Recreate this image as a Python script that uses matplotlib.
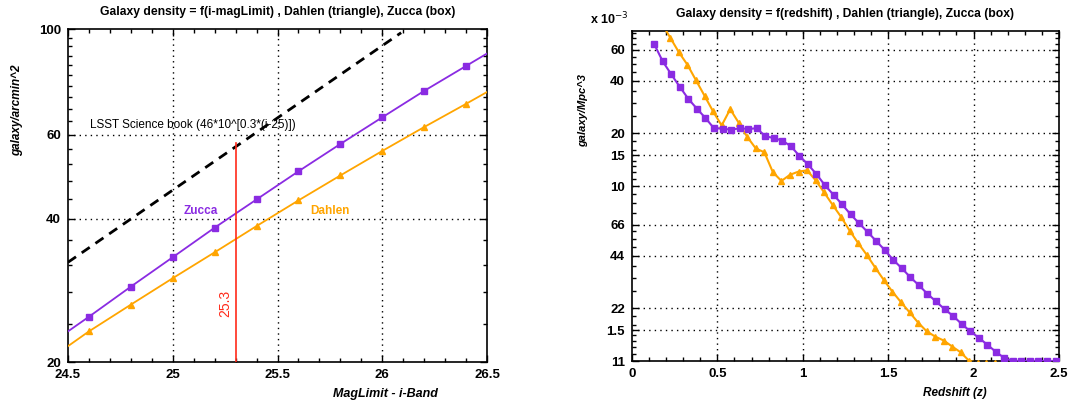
import numpy as np
import matplotlib
matplotlib.use("Agg")
import matplotlib.pyplot as plt
from matplotlib.ticker import NullFormatter

plt.rcParams['font.family'] = ['Liberation Sans', 'DejaVu Sans']

# ---- left panel : density vs i-band limiting magnitude ----
mag = [24.6, 24.8, 25.0, 25.2, 25.4, 25.6, 25.8, 26.0, 26.2, 26.4]
zucca_mag = [24.9, 28.8, 33.2, 38.3, 43.9, 50.3, 57.4, 65.3, 74.2, 83.7]
dahlen_mag = [23.2, 26.4, 30.0, 34.0, 38.6, 43.7, 49.3, 55.5, 62.3, 69.7]

# where the connecting lines meet the plot edges
edge_x = [24.5, 26.5]
zucca_edge = [23.2, 88.9]
dahlen_edge = [21.6, 73.8]

# LSST science book relation
lsst_x = [24.5, 26.09]
lsst_y = [32.4, 98.3]

mag_cut = 25.3
mag_cut_top = 57.6

# ---- right panel : density vs redshift (units of 1e-3 galaxy/Mpc^3) ----
z_zucca = [0.13, 0.18, 0.23, 0.28, 0.33, 0.38, 0.43, 0.48, 0.53, 0.58,
           0.63, 0.68, 0.73, 0.78, 0.83, 0.88, 0.93, 0.98, 1.03, 1.08,
           1.13, 1.18, 1.23, 1.28, 1.33, 1.38, 1.43, 1.48, 1.53, 1.58,
           1.63, 1.68, 1.73, 1.78, 1.83, 1.88, 1.93, 1.98, 2.03, 2.08,
           2.13, 2.18, 2.23, 2.28, 2.33, 2.38, 2.43, 2.48]
n_zucca = [64.8, 51.6, 43.5, 36.9, 31.5, 27.7, 24.5, 21.4, 21.3, 21.0,
           21.4, 21.2, 21.4, 19.3, 18.8, 18.2, 16.9, 14.9, 13.3, 11.7,
           10.1, 8.92, 7.86, 6.89, 6.12, 5.46, 4.85, 4.31, 3.78, 3.39,
           3.01, 2.71, 2.42, 2.19, 1.98, 1.81, 1.63, 1.48, 1.36, 1.24,
           1.13, 1.04, 1.0, 1.0, 1.0, 1.0, 1.0, 1.0]

z_dahlen = [0.175, 0.225, 0.275, 0.325, 0.375, 0.425, 0.475, 0.525, 0.575, 0.625,
            0.675, 0.725, 0.775, 0.825, 0.875, 0.925, 0.975, 1.025, 1.075, 1.125,
            1.175, 1.225, 1.275, 1.325, 1.375, 1.425, 1.475, 1.525, 1.575, 1.625,
            1.675, 1.725, 1.775, 1.825, 1.875, 1.925, 1.975, 2.025, 2.075, 2.125,
            2.175, 2.225, 2.275, 2.325, 2.375, 2.425, 2.475]
n_dahlen = [85.0, 70.2, 58.1, 49.3, 40.2, 32.8, 26.7, 22.2, 27.5, 23.0,
            19.1, 16.4, 15.6, 12.0, 10.7, 11.6, 12.1, 12.3, 10.8, 9.2,
            7.8, 6.65, 5.55, 4.71, 4.04, 3.41, 2.9, 2.49, 2.17, 1.90,
            1.66, 1.48, 1.38, 1.31, 1.21, 1.12, 1.0, 0.98, 0.98, 0.98,
            0.98, 0.98, 0.98, 0.98, 0.98, 0.98, 0.98]

right_ticks = [60, 40, 20, 15, 10, 6, 4, 2, 1.5, 1]
right_labels = ["60", "40", "20", "15", "10", "66", "44", "22", "1.5", "11"]

purple = "#8a2be2"
orange = "#ffa500"
red = "#ff2a1a"


def style_axes(ax):
	for s in ax.spines.values():
		s.set_linewidth(1.2)
	ax.tick_params(which="both", direction="in", top=True, right=True,
	               labelsize=9.5, width=1.0, pad=5)
	ax.tick_params(which="major", length=5)
	ax.tick_params(which="minor", length=3)
	for lab in ax.get_xticklabels() + ax.get_yticklabels():
		lab.set_fontweight("bold")


fig = plt.figure(figsize=(10.69, 4.05), dpi=100)

# ------------------------------------------------ left
ax1 = fig.add_axes([0.0636, 0.106, 0.392, 0.822])
ax1.set_yscale("log")
ax1.set_xlim(24.5, 26.5)
ax1.set_ylim(20, 100)

for g in [25.0, 25.5, 26.0]:
	ax1.axvline(g, color="black", lw=1.0, ls=(0, (1, 3)), zorder=1)
for g in [40, 60]:
	ax1.axhline(g, color="black", lw=1.0, ls=(0, (1, 3)), zorder=1)

ax1.plot(lsst_x, lsst_y, color="black", lw=2.0, ls=(0, (3.5, 2.5)), zorder=3)
ax1.plot([edge_x[0]] + mag + [edge_x[1]], [zucca_edge[0]] + zucca_mag + [zucca_edge[1]],
         color=purple, lw=1.3, zorder=3)
ax1.plot([edge_x[0]] + mag + [edge_x[1]], [dahlen_edge[0]] + dahlen_mag + [dahlen_edge[1]],
         color=orange, lw=1.3, zorder=3)
ax1.plot(mag, zucca_mag, ls="none", marker="s", ms=4.5, color=purple, zorder=4)
ax1.plot(mag, dahlen_mag, ls="none", marker="^", ms=4.5, color=orange, zorder=4)
ax1.plot([mag_cut, mag_cut], [20, mag_cut_top], color=red, lw=1.2, zorder=3)

ax1.text(24.605, 63.0, "LSST Science book (46*10^[0.3*(i-25)])", fontsize=8.5,
         va="center", ha="left")
ax1.text(25.054, 41.5, "Zucca", color=purple, fontsize=8.5, fontweight="bold",
         va="center", ha="left")
ax1.text(25.655, 41.5, "Dahlen", color=orange, fontsize=8.5, fontweight="bold",
         va="center", ha="left")
ax1.text(25.249, 26.5, "25.3", color=red, fontsize=10, rotation=90,
         va="center", ha="center")

ax1.set_xticks([24.5, 25.0, 25.5, 26.0, 26.5])
ax1.set_xticklabels(["24.5", "25", "25.5", "26", "26.5"])
ax1.set_xticks(np.arange(24.6, 26.45, 0.1), minor=True)
ax1.set_yticks([20, 40, 60, 100])
ax1.set_yticklabels(["20", "40", "60", "100"])
ax1.set_yticks([v for v in range(24, 100, 4) if v not in (40, 60)], minor=True)
ax1.yaxis.set_minor_formatter(NullFormatter())
style_axes(ax1)

ax1.set_title("Galaxy density = f(i-magLimit) , Dahlen (triangle), Zucca (box)",
              fontsize=8.7, fontweight="bold", pad=10)
ax1.set_xlabel("MagLimit - i-Band", fontsize=9, fontweight="bold", style="italic")
ax1.xaxis.set_label_coords(0.758, -0.078)
ax1.set_ylabel("galaxy/arcmin^2", fontsize=8.5, fontweight="bold", style="italic")
ax1.yaxis.set_label_coords(-0.107, 0.757)

# ------------------------------------------------ right
ax2 = fig.add_axes([0.5912, 0.1086, 0.3994, 0.8149])
ax2.set_yscale("log")
ax2.set_xlim(0, 2.5)
ax2.set_ylim(1.0, 77.0)

for g in [0.5, 1.0, 1.5, 2.0]:
	ax2.axvline(g, color="black", lw=1.0, ls=(0, (1, 3)), zorder=1)
for g in right_ticks[:-1]:
	ax2.axhline(g, color="black", lw=1.0, ls=(0, (1, 3)), zorder=1)

ax2.plot(z_dahlen, n_dahlen, color=orange, lw=1.5, marker="^", ms=4.5, zorder=3)
ax2.plot(z_zucca, n_zucca, color=purple, lw=1.5, marker="s", ms=5, zorder=4)

ax2.set_xticks([0, 0.5, 1.0, 1.5, 2.0, 2.5])
ax2.set_xticklabels(["0", "0.5", "1", "1.5", "2", "2.5"])
ax2.set_xticks(np.arange(0.1, 2.45, 0.1), minor=True)
ax2.set_yticks(right_ticks)
ax2.set_yticklabels(right_labels)
ax2.set_yticks([75, 70, 65, 55, 50, 45, 35, 30, 25, 18, 16, 14, 13, 12, 11,
                9, 8, 7, 5.5, 5, 4.5, 3.5, 3, 2.5, 1.8, 1.6, 1.4, 1.3, 1.2, 1.1],
               minor=True)
ax2.yaxis.set_minor_formatter(NullFormatter())
style_axes(ax2)

ax2.set_title("Galaxy density = f(redshift) , Dahlen (triangle), Zucca (box)",
              fontsize=8.7, fontweight="bold", pad=10)
ax2.set_xlabel("Redshift (z)", fontsize=8.5, fontweight="bold", style="italic")
ax2.xaxis.set_label_coords(0.755, -0.078)
ax2.set_ylabel("galaxy/Mpc^3", fontsize=8, fontweight="bold", style="italic")
ax2.yaxis.set_label_coords(-0.103, 0.758)
fig.text(0.552, 0.953, r"x 10$^{-3}$", fontsize=9, fontweight="bold",
         va="center", ha="left")

fig.savefig("out.png", dpi=100)
